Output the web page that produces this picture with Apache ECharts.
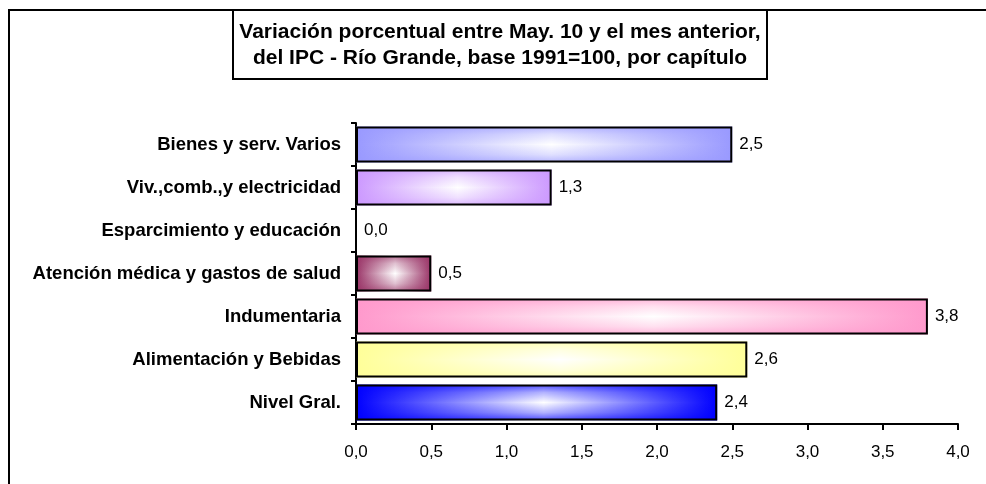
<!DOCTYPE html>
<html>
<head>
<meta charset="utf-8">
<title>IPC Río Grande</title>
<script src="https://cdn.jsdelivr.net/npm/echarts@6/dist/echarts.min.js"></script>
<style>
  html, body { margin: 0; padding: 0; background: #fff; }
  #chart { width: 986px; height: 484px; }
</style>
</head>
<body>
<div id="chart"></div>
<script>
// datos (de abajo hacia arriba)
var categories = ['Nivel Gral.', 'Alimentación y Bebidas', 'Indumentaria', 'Atención médica y gastos de salud', 'Esparcimiento y educación', 'Viv.,comb.,y electricidad', 'Bienes y serv. Varios'];
var values = [2.4, 2.6, 3.8, 0.5, 0.0, 1.3, 2.5];
var barColors = ['#0000ff', '#ffff99', '#ff99cc', '#993366', '#ffffff', '#cc99ff', '#9999ff'];
var xMin = 0, xMax = 4, xStep = 0.5;

var FONT = '"Liberation Sans", Arial, sans-serif';

function fmt(v) {
  return Number(v).toFixed(1).replace('.', ',');
}

function rgba(hex, a) {
  var r = parseInt(hex.slice(1, 3), 16), g = parseInt(hex.slice(3, 5), 16), b = parseInt(hex.slice(5, 7), 16);
  return 'rgba(' + r + ',' + g + ',' + b + ',' + a + ')';
}

// degradado horizontal: color - blanco - color
function hGrad(c) {
  return new echarts.graphic.LinearGradient(0, 0, 1, 0, [
    { offset: 0, color: c },
    { offset: 0.52, color: '#ffffff' },
    { offset: 1, color: c }
  ]);
}

// capa vertical encima para dar el efecto "desde el centro"
function vGrad(c) {
  return new echarts.graphic.LinearGradient(0, 0, 0, 1, [
    { offset: 0, color: rgba(c, 0.7) },
    { offset: 0.22, color: rgba(c, 0.3) },
    { offset: 0.5, color: rgba(c, 0) },
    { offset: 0.78, color: rgba(c, 0.3) },
    { offset: 1, color: rgba(c, 0.7) }
  ]);
}

function initChart() {
  var chartDom = document.getElementById('chart');
  var myChart = echarts.init(chartDom, null, { renderer: 'canvas' });

  var baseData = values.map(function (v, i) {
    return { value: v, itemStyle: { color: hGrad(barColors[i]) } };
  });
  var topData = values.map(function (v, i) {
    return { value: v, itemStyle: { color: vGrad(barColors[i]) } };
  });

  var option = {
    animation: false,
    backgroundColor: '#fff',
    textStyle: { fontFamily: FONT },
    title: {
      text: 'Variación porcentual entre May. 10 y el mes anterior,\ndel IPC - Río Grande, base 1991=100, por capítulo',
      left: 493,
      top: 10,
      textAlign: 'center',
      padding: [9, 7, 8, 7],
      borderWidth: 2,
      borderColor: '#000',
      backgroundColor: '#fff',
      textStyle: {
        fontFamily: FONT,
        fontWeight: 'bold',
        fontSize: 21,
        lineHeight: 26,
        color: '#000'
      }
    },
    graphic: [
      {
        type: 'rect',
        z: -1,
        shape: { x: 9, y: 10, width: 1200, height: 600 },
        style: { fill: 'none', stroke: '#000', lineWidth: 2 }
      }
    ],
    grid: {
      left: 356,
      right: 28,
      top: 123,
      bottom: 60,
      containLabel: false
    },
    xAxis: {
      type: 'value',
      min: xMin,
      max: xMax,
      interval: xStep,
      splitLine: { show: false },
      axisLine: { show: true, lineStyle: { color: '#000', width: 2 } },
      axisTick: { show: true, length: 6, lineStyle: { color: '#000', width: 2 } },
      axisLabel: {
        margin: 20,
        fontSize: 17,
        fontFamily: FONT,
        color: '#000',
        formatter: fmt
      }
    },
    yAxis: {
      type: 'category',
      data: categories,
      axisLine: { show: true, lineStyle: { color: '#000', width: 2 } },
      axisTick: { show: true, length: 5, lineStyle: { color: '#000', width: 2 } },
      axisLabel: {
        margin: 15,
        fontSize: 18.5,
        fontWeight: 'bold',
        fontFamily: FONT,
        color: '#000'
      }
    },
    series: [
      {
        name: 'base',
        type: 'bar',
        data: baseData,
        barCategoryGap: '16%',
        silent: true
      },
      {
        name: 'Variación',
        type: 'bar',
        data: topData,
        barGap: '-100%',
        barCategoryGap: '16%',
        itemStyle: { borderColor: '#000', borderWidth: 2 },
        label: {
          show: true,
          position: 'right',
          distance: 7,
          fontSize: 17,
          fontFamily: FONT,
          color: '#000',
          formatter: function (p) { return fmt(p.value); }
        }
      }
    ]
  };

  option && myChart.setOption(option);
}

document.addEventListener('DOMContentLoaded', function () {
  initChart();
});
</script>
</body>
</html>
